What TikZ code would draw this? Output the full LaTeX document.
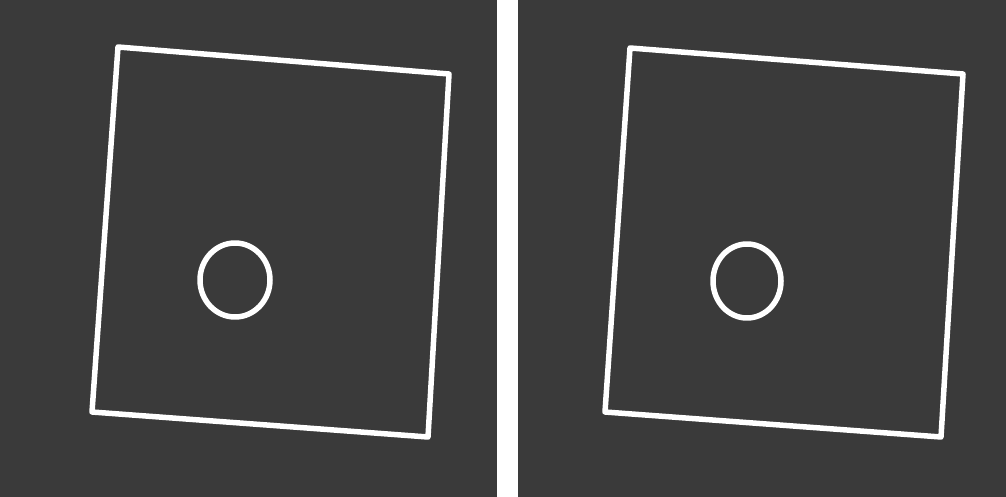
\documentclass[tikz,border=0pt]{standalone}
\definecolor{panelgray}{HTML}{3A3A3A}
\tikzset{
  panel/.style={fill=panelgray, draw=none},
  outline/.style={draw=white, line width=5.5pt, line join=round},
}
\begin{document}
\begin{tikzpicture}[x=1pt, y=-1pt]
\useasboundingbox (0,0) rectangle (1006,497);
% left panel
\fill[panel] (0,0) rectangle (497,497);
\draw[outline] (118,47) -- (449,74) -- (428,437) -- (92,412) -- cycle;
\draw[outline] (235,280) ellipse [x radius=35, y radius=37];
% right panel
\fill[panel] (518,0) rectangle (1006,497);
\draw[outline] (630,48) -- (963,74) -- (941,437) -- (605,412) -- cycle;
\draw[outline] (747,281) ellipse [x radius=34, y radius=37];
\end{tikzpicture}
\end{document}
